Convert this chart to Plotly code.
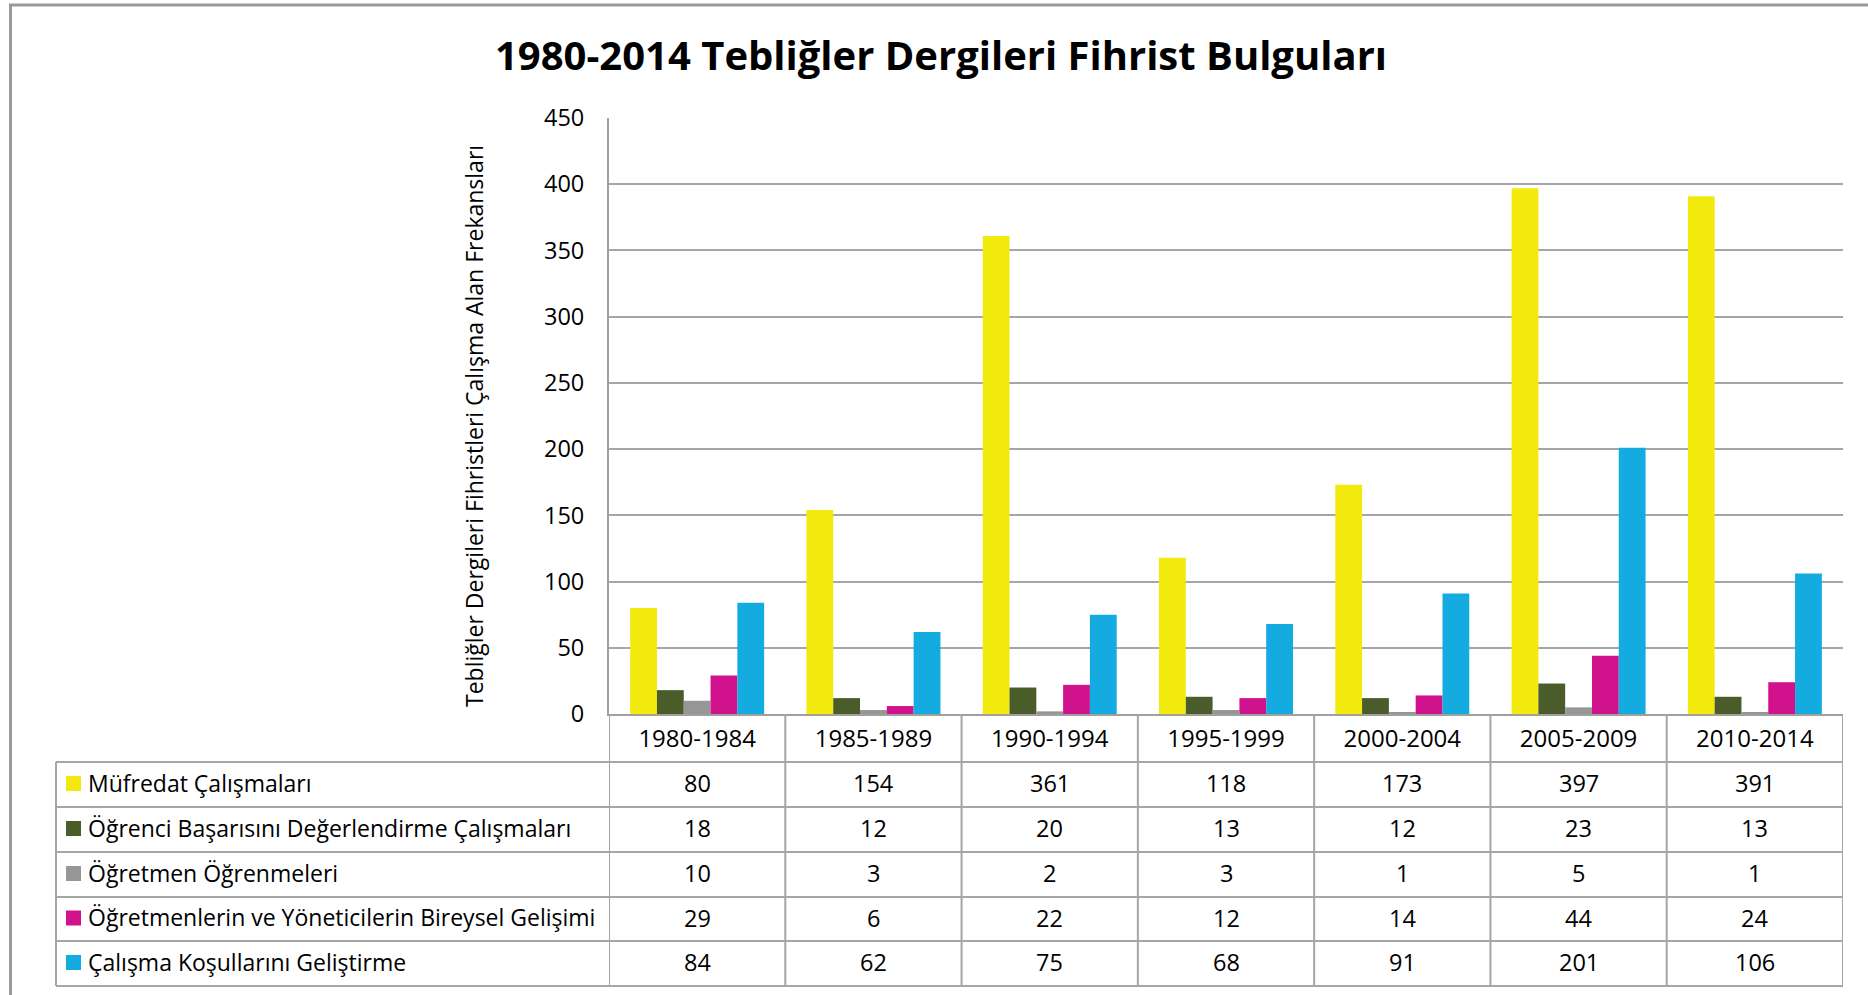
import plotly.graph_objects as go

W, H = 1868, 995

categories = ["1980-1984", "1985-1989", "1990-1994", "1995-1999",
              "2000-2004", "2005-2009", "2010-2014"]
series_names = [
    "Müfredat Çalışmaları",
    "Öğrenci Başarısını Değerlendirme Çalışmaları",
    "Öğretmen Öğrenmeleri",
    "Öğretmenlerin ve Yöneticilerin Bireysel Gelişimi",
    "Çalışma Koşullarını Geliştirme",
]
mufredat = [80, 154, 361, 118, 173, 397, 391]
ogrenci_basari = [18, 12, 20, 13, 12, 23, 13]
ogretmen_ogrenme = [10, 3, 2, 3, 1, 5, 1]
bireysel_gelisim = [29, 6, 22, 12, 14, 44, 24]
calisma_kosul = [84, 62, 75, 68, 91, 201, 106]
series_values = [mufredat, ogrenci_basari, ogretmen_ogrenme,
                 bireysel_gelisim, calisma_kosul]
colors = ["#F2EA0C", "#495C29", "#969696", "#D1128D", "#14ABE0"]
y_ticks = [0, 50, 100, 150, 200, 250, 300, 350, 400, 450]

title_text = "1980-2014 Tebliğler Dergileri Fihrist Bulguları"
y_title = "Tebliğler Dergileri Fihristleri Çalışma Alan Frekansları"

FONT = "Open Sans"
GRID = "#A6A6A6"
TXT = 23.5


def px(x):
    return x / W


def py(y):
    return 1 - y / H


# layout geometry (pixels)
PLOT_L, PLOT_R = 609, 1843
PLOT_T, PLOT_B = 118, 714
TABLE_L = 56
row_lines = [714, 762, 807, 852, 897, 941, 986]

fig = go.Figure()
for name, vals, col in zip(series_names, series_values, colors):
    fig.add_trace(go.Bar(x=categories, y=vals, name=name,
                         marker=dict(color=col, line=dict(width=0)),
                         showlegend=False))

shapes = []
# outer chart border
shapes.append(dict(type="rect", xref="paper", yref="paper",
                   x0=px(10.5), x1=px(1880), y0=py(1010), y1=py(5),
                   line=dict(color="#9A9A9A", width=3), layer="below"))
# horizontal table lines (data rows)
for yy in row_lines[1:]:
    shapes.append(dict(type="line", xref="paper", yref="paper",
                       x0=px(TABLE_L), x1=px(PLOT_R), y0=py(yy), y1=py(yy),
                       line=dict(color=GRID, width=2)))
# left table border
shapes.append(dict(type="line", xref="paper", yref="paper",
                   x0=px(TABLE_L), x1=px(TABLE_L),
                   y0=py(row_lines[1]), y1=py(row_lines[-1]),
                   line=dict(color=GRID, width=2)))
# vertical column lines
for i in range(len(categories) + 1):
    shapes.append(dict(type="line", xref="x", yref="paper",
                       x0=i - 0.5, x1=i - 0.5,
                       y0=py(row_lines[0]), y1=py(row_lines[-1]),
                       line=dict(color=GRID, width=2)))
# legend keys
for k, col in enumerate(colors):
    yc = (row_lines[k + 1] + row_lines[k + 2]) / 2 - 1
    shapes.append(dict(type="rect", xref="paper", yref="paper",
                       x0=px(66), x1=px(81), y0=py(yc + 7.5), y1=py(yc - 7.5),
                       fillcolor=col, line=dict(width=0)))

annotations = []
# y-axis title
annotations.append(dict(text=y_title, xref="paper", yref="paper",
                        x=px(474), y=py(426), textangle=-90, showarrow=False,
                        xanchor="center", yanchor="middle",
                        font=dict(family=FONT, size=23, color="#000")))
# table: series labels and values
for k, (name, vals) in enumerate(zip(series_names, series_values)):
    yc = (row_lines[k + 1] + row_lines[k + 2]) / 2 - 1.5
    annotations.append(dict(text=name, xref="paper", yref="paper",
                            x=px(86), y=py(yc - 0.5), xanchor="left",
                            yanchor="middle", showarrow=False,
                            font=dict(family=FONT, size=23, color="#000")))
    for i, v in enumerate(vals):
        annotations.append(dict(text=str(v), xref="x", yref="paper",
                                x=categories[i], y=py(yc), xanchor="center",
                                yanchor="middle", showarrow=False,
                                font=dict(family=FONT, size=TXT, color="#000")))

fig.update_layout(
    template="none",
    width=W, height=H,
    margin=dict(l=0, r=0, t=0, b=0, pad=0, autoexpand=False),
    paper_bgcolor="white", plot_bgcolor="white",
    barmode="group", bargap=0.24, bargroupgap=0,
    font=dict(family=FONT, size=TXT, color="#000"),
    title=dict(text=title_text, x=px(941), y=py(56), xref="paper",
               yref="container", xanchor="center", yanchor="middle",
               font=dict(family=FONT, size=40, color="#000", weight="bold")),
    xaxis=dict(domain=[px(PLOT_L), px(PLOT_R)], range=[-0.5, 6.5],
               automargin=False,
               showline=True, linecolor="#A0A0A0", linewidth=2,
               showgrid=False, zeroline=False, ticks="", ticklabelstandoff=2,
               tickfont=dict(family=FONT, size=24, color="#000")),
    yaxis=dict(domain=[py(PLOT_B), py(PLOT_T)], range=[0, 450],
               automargin=False,
               tickvals=y_ticks, showline=True, linecolor="#A0A0A0",
               linewidth=2, showgrid=True, gridcolor=GRID, gridwidth=1.5,
               zeroline=False, ticks="", ticklabelstandoff=18,
               tickfont=dict(family=FONT, size=TXT, color="#000")),
    shapes=shapes, annotations=annotations,
)

fig.write_html(
    "out.html",
    config={"displayModeBar": False},
    post_script="document.body.style.margin='0';document.body.style.overflow='hidden';",
)
